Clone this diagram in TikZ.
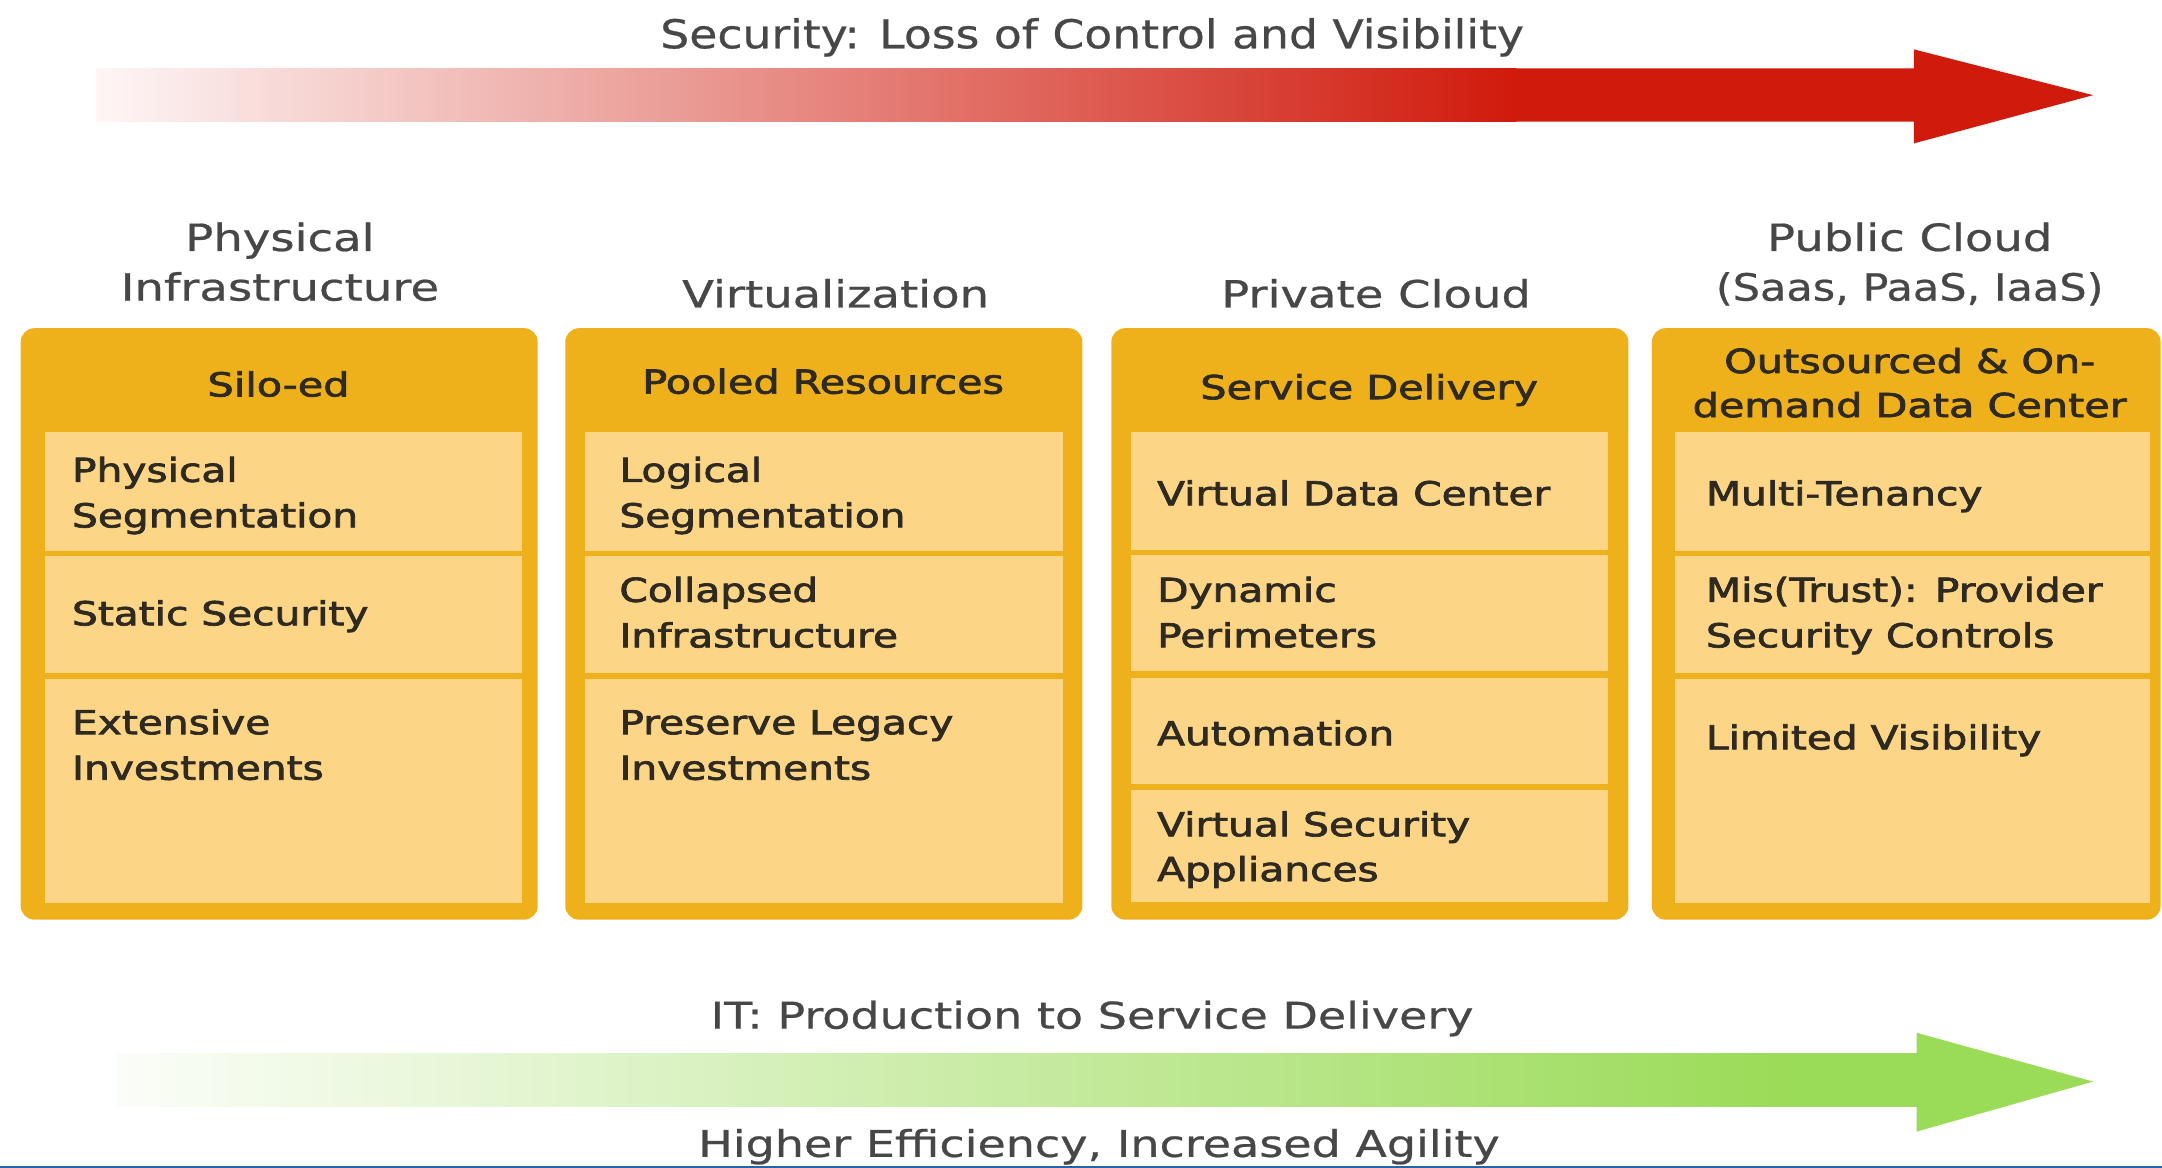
\documentclass[tikz,border=0pt]{standalone}
\usepackage{fontspec}
\usepackage{graphicx}
\setmainfont{DejaVu Sans}
\newfontfamily\semib{DejaVu Sans}[FakeBold=2]
\newfontfamily\lightb{DejaVu Sans}[FakeBold=0.6]
\definecolor{boxor}{HTML}{EEB11B}
\definecolor{cellf}{HTML}{FCD586}
\definecolor{txtd}{HTML}{2E2A22}
\definecolor{titg}{HTML}{474747}
\definecolor{arred}{HTML}{D01A0C}
\definecolor{argr}{HTML}{9ADB57}
\definecolor{bline}{HTML}{2A62A6}
\tikzset{
  celltxt/.style={anchor=base west, inner sep=0pt, text=txtd,
    font=\semib\fontsize{24}{33}\selectfont, xscale=1.23, transform shape},
  hdrtxt/.style={anchor=base, inner sep=0pt, text=txtd,
    font=\semib\fontsize{24}{33}\selectfont, xscale=1.25, transform shape},
  coltxt/.style={anchor=base, inner sep=0pt, text=titg,
    font=\lightb\fontsize{27.2}{33}\selectfont, xscale=1.24, transform shape},
  bigtxt/.style={anchor=base, inner sep=0pt, text=titg,
    font=\lightb\fontsize{28.8}{33}\selectfont, xscale=1.15, transform shape},
  lowtxt/.style={anchor=base, inner sep=0pt, text=titg,
    font=\lightb\fontsize{26.7}{33}\selectfont, xscale=1.25, transform shape},
  outerbox/.style={fill=boxor, rounded corners=10pt},
  cellbox/.style={fill=cellf}
}
\begin{document}
\begin{tikzpicture}[x=1pt,y=-1pt]
\useasboundingbox (0,0) rectangle (1568,847);
% red arrow
\shade[left color=arred!4, middle color=arred!68, right color=arred] (70,49.6) rectangle (1100,88.2);
\fill[arred] (1099,49.6) -- (1388,49.6) -- (1388,35.8) -- (1518,69) -- (1388,104) -- (1388,88.2) -- (1099,88.2) -- cycle;
\node[bigtxt] (ttop) at (792,35) {Security: Loss of Control and Visibility};
% green arrow
\shade[left color=argr!4, middle color=argr!58, right color=argr] (85,763.8) rectangle (1300,802.7);
\fill[argr] (1299,763.8) -- (1390,763.8) -- (1390,749) -- (1518,784.4) -- (1390,820.7) -- (1390,802.7) -- (1299,802.7) -- cycle;
\node[lowtxt] (tit) at (792,746) {IT: Production to Service Delivery};
\node[lowtxt] (teff) at (797,839) {Higher Efficiency, Increased Agility};
% bottom blue line
\fill[bline] (0,845.6) rectangle (1568,847);
% column titles
\node[coltxt] (c1a) at (203,182) {Physical};
\node[coltxt] (c1b) at (203,218) {Infrastructure};
\node[coltxt] (c2) at (606,223) {Virtualization};
\node[coltxt] (c3) at (998,223) {Private Cloud};
\node[coltxt] (c4a) at (1385,182) {Public Cloud};
\node[coltxt, xscale=0.925] (c4b) at (1385,218) {(Saas, PaaS, IaaS)};
% boxes
\fill[outerbox] (15,238) rectangle (390,667);
\fill[outerbox] (410,238) rectangle (785,667);
\fill[outerbox] (806,238) rectangle (1181,667);
\fill[outerbox] (1198,238) rectangle (1567,667);
% cells box 1
\fill[cellbox] (32.5,313.5) rectangle (378.5,399.5);
\fill[cellbox] (32.5,403.5) rectangle (378.5,488);
\fill[cellbox] (32.5,492.5) rectangle (378.5,655);
% cells box 2
\fill[cellbox] (424,313.5) rectangle (771,399.5);
\fill[cellbox] (424,403.5) rectangle (771,488);
\fill[cellbox] (424,492.5) rectangle (771,655);
% cells box 3
\fill[cellbox] (820,313.5) rectangle (1166,398.8);
\fill[cellbox] (820,402.6) rectangle (1166,486.4);
\fill[cellbox] (820,491.7) rectangle (1166,568.4);
\fill[cellbox] (820,572.8) rectangle (1166,654);
% cells box 4
\fill[cellbox] (1214.7,313.5) rectangle (1559,399.5);
\fill[cellbox] (1214.7,403.5) rectangle (1559,488);
\fill[cellbox] (1214.7,492.5) rectangle (1559,655);
% headers
\node[hdrtxt] (h1) at (202,287.5) {Silo-ed};
\node[hdrtxt] (h2) at (597,285.5) {Pooled Resources};
\node[hdrtxt] (h3) at (993,289.5) {Service Delivery};
\node[hdrtxt] (h4a) at (1385,270.5) {Outsourced \& On-};
\node[hdrtxt] (h4b) at (1385,302.5) {demand Data Center};
% box 1 texts
\node[celltxt] (a1a) at (52,349.5) {Physical};
\node[celltxt] (a1b) at (52,382.5) {Segmentation};
\node[celltxt] (a2) at (52,453.5) {Static Security};
\node[celltxt] (a3a) at (52,532.5) {Extensive};
\node[celltxt] (a3b) at (52,565.5) {Investments};
% box 2 texts
\node[celltxt] (b1a) at (449,349.5) {Logical};
\node[celltxt] (b1b) at (449,382.5) {Segmentation};
\node[celltxt] (b2a) at (449,436.5) {Collapsed};
\node[celltxt] (b2b) at (449,469.5) {Infrastructure};
\node[celltxt] (b3a) at (449,532.5) {Preserve Legacy};
\node[celltxt] (b3b) at (449,565.5) {Investments};
% box 3 texts
\node[celltxt] (d1) at (839,366.5) {Virtual Data Center};
\node[celltxt] (d2a) at (839,436.5) {Dynamic};
\node[celltxt] (d2b) at (839,469.5) {Perimeters};
\node[celltxt] (d3) at (839,540.5) {Automation};
\node[celltxt] (d4a) at (839,606.5) {Virtual Security};
\node[celltxt] (d4b) at (839,639) {Appliances};
% box 4 texts
\node[celltxt] (e1) at (1237,366.5) {Multi-Tenancy};
\node[celltxt] (e2a) at (1237,436.5) {Mis(Trust): Provider};
\node[celltxt] (e2b) at (1237,469.5) {Security Controls};
\node[celltxt] (e3) at (1237,543.5) {Limited Visibility};
\end{tikzpicture}
\end{document}
